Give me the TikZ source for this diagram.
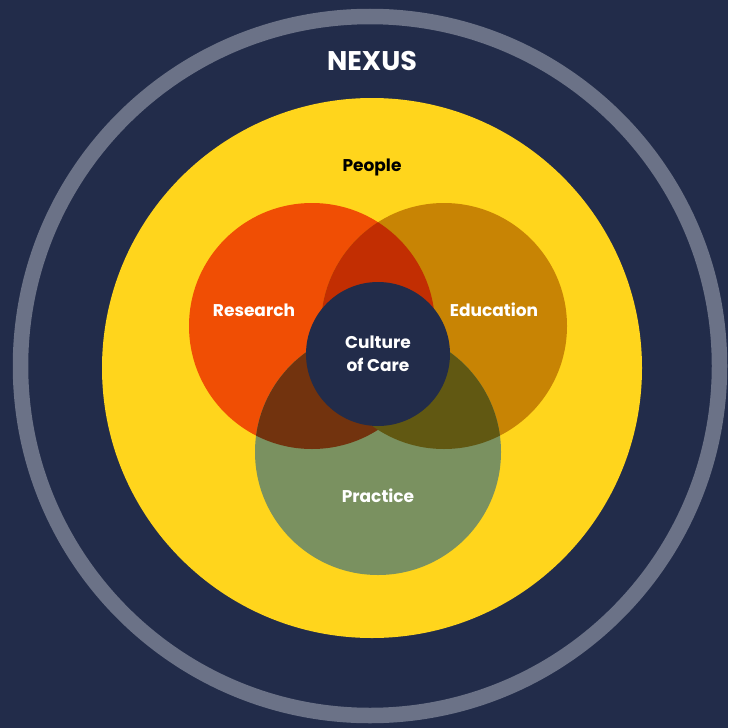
\documentclass[tikz,border=0pt]{standalone}
\usepackage{fontspec}
\setmainfont{Poppins}
\definecolor{bgnavy}{HTML}{222C4A}
\definecolor{ringgray}{HTML}{6B7287}
\definecolor{peopleyel}{HTML}{FFD51C}
\definecolor{resred}{HTML}{F04E04}
\definecolor{eduamber}{HTML}{C88404}
\definecolor{pracgreen}{HTML}{7A9160}
\definecolor{reov}{HTML}{C22E02}
\definecolor{rpov}{HTML}{72330E}
\definecolor{epov}{HTML}{615812}
\tikzset{
  lbl/.style={text=white,font=\bfseries\fontsize{17}{23}\selectfont,align=center,inner sep=0pt},
  lbldark/.style={lbl,text=black},
  title/.style={lbl,font=\bfseries\fontsize{27}{30}\selectfont}
}
\begin{document}
\begin{tikzpicture}[x=1pt,y=-1pt]
\fill[bgnavy] (0,0) rectangle (728,728);
\useasboundingbox (0,0) rectangle (728,728);
\draw[ringgray,line width=15.5pt] (370,366) circle (349.5);
\fill[peopleyel] (372,368) circle (270);
\coordinate (R) at (312,326);
\coordinate (E) at (444,326);
\coordinate (P) at (378,452);
\coordinate (C) at (378,354);
\fill[resred] (R) circle (123);
\fill[eduamber] (E) circle (123);
\fill[pracgreen] (P) circle (123);
\begin{scope}\clip (R) circle (123); \fill[reov] (E) circle (123); \end{scope}
\begin{scope}\clip (R) circle (123); \fill[rpov] (P) circle (123); \end{scope}
\begin{scope}\clip (E) circle (123); \fill[epov] (P) circle (123); \end{scope}
\fill[bgnavy] (C) circle (72);
\node[title] (nexus) at (372,61) {NEXUS};
\node[lbldark] (people) at (372,167) {People};
\node[lbl] (research) at (254,310) {Research};
\node[lbl] (education) at (494,310) {Education};
\node[lbl] (culture) at (378,354) {Culture\\of Care};
\node[lbl] (practice) at (378,496) {Practice};
\end{tikzpicture}
\end{document}
